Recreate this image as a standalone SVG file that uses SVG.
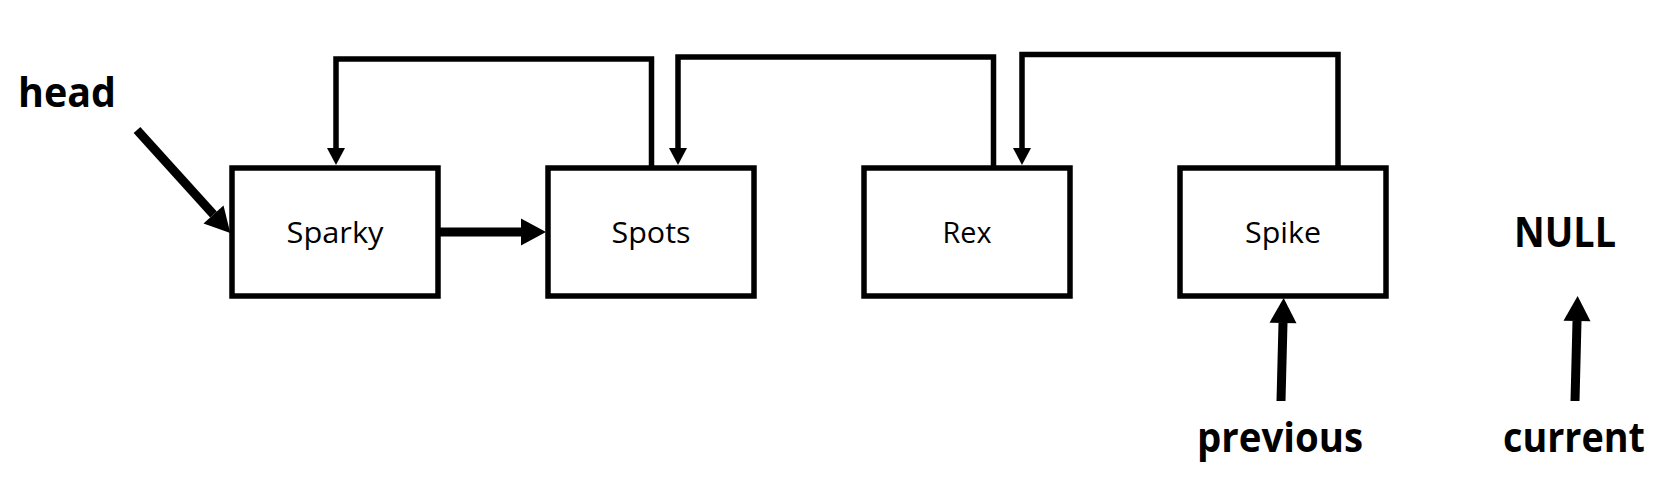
<svg xmlns="http://www.w3.org/2000/svg" width="1680" height="498" viewBox="0 0 1680 498">
  <style>
    .box { fill: #ffffff; stroke: #000000; stroke-width: 5.5; }
    .name { font-family: "Open Sans", "Liberation Sans", sans-serif; font-size: 29px; fill: #000000; text-anchor: middle; }
    .label { font-family: "Open Sans", "Liberation Sans", sans-serif; font-size: 41px; font-weight: bold; fill: #000000; }
    .link { fill: none; stroke: #000000; stroke-width: 5.5; stroke-linejoin: miter; }
    .ptr { fill: none; stroke: #000000; stroke-width: 9; }
  </style>
  <defs>
    <marker id="small" markerUnits="userSpaceOnUse" markerWidth="18" markerHeight="18" refX="0" refY="9" orient="auto" overflow="visible">
      <path d="M0,0 L17,9 L0,18 z" fill="#000000"/>
    </marker>
    <marker id="big" markerUnits="userSpaceOnUse" markerWidth="25" markerHeight="27" refX="0" refY="13.5" orient="auto" overflow="visible">
      <path d="M0,0 L25,13.5 L0,27 z" fill="#000000"/>
    </marker>
  </defs>
  <rect width="1680" height="498" fill="#ffffff"/>

  <g id="connectors">
    <path class="link" d="M651.5,168 V59 H336 V148" marker-end="url(#small)"/>
    <path class="link" d="M993.5,168 V57 H678 V148" marker-end="url(#small)"/>
    <path class="link" d="M1338,168 V54.5 H1022 V148" marker-end="url(#small)"/>
    <path class="ptr" d="M440,232 H521" marker-end="url(#big)"/>
    <path class="ptr" d="M137,130 L213.5,214.5" marker-end="url(#big)"/>
    <path class="ptr" d="M1281,401 L1283,323" marker-end="url(#big)"/>
    <path class="ptr" d="M1575,401 L1577,321" marker-end="url(#big)"/>
  </g>

  <g id="node-sparky">
    <rect class="box" x="232" y="168" width="206" height="128"/>
    <text class="name" x="335" y="243" textLength="97" lengthAdjust="spacingAndGlyphs">Sparky</text>
  </g>
  <g id="node-spots">
    <rect class="box" x="548" y="168" width="206" height="128"/>
    <text class="name" x="651" y="243" textLength="79" lengthAdjust="spacingAndGlyphs">Spots</text>
  </g>
  <g id="node-rex">
    <rect class="box" x="864" y="168" width="206" height="128"/>
    <text class="name" x="967" y="243" textLength="49" lengthAdjust="spacingAndGlyphs">Rex</text>
  </g>
  <g id="node-spike">
    <rect class="box" x="1180" y="168" width="206" height="128"/>
    <text class="name" x="1283" y="243" textLength="76" lengthAdjust="spacingAndGlyphs">Spike</text>
  </g>

  <g id="label-head">
    <text class="label" x="18" y="107" textLength="98" lengthAdjust="spacingAndGlyphs">head</text>
  </g>
  <g id="label-null">
    <text class="label" x="1565" y="247" text-anchor="middle" textLength="102" lengthAdjust="spacingAndGlyphs">NULL</text>
  </g>
  <g id="label-previous">
    <text class="label" x="1280" y="452" text-anchor="middle" textLength="166" lengthAdjust="spacingAndGlyphs">previous</text>
  </g>
  <g id="label-current">
    <text class="label" x="1574" y="452" text-anchor="middle" textLength="142" lengthAdjust="spacingAndGlyphs">current</text>
  </g>
</svg>
